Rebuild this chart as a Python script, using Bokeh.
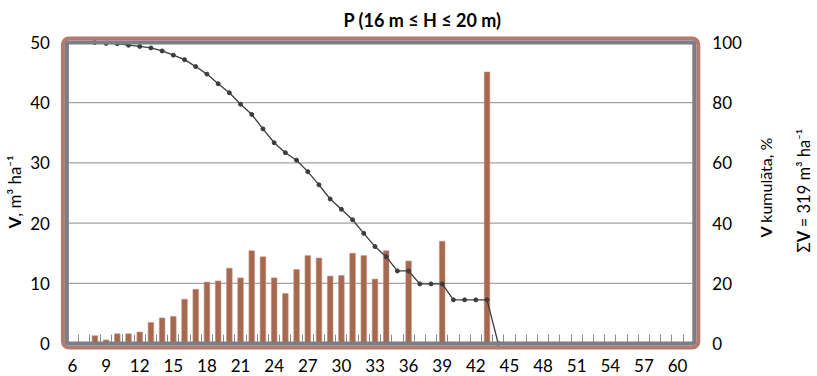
import numpy as np
from bokeh.plotting import figure
from bokeh.models import Range1d, LinearAxis, FixedTicker, Label, BoxAnnotation
from bokeh.embed import file_html
from bokeh.resources import INLINE

# ---------------- data ----------------
bar_d = [8, 9, 10, 11, 12, 13, 14, 15, 16, 17, 18, 19, 20, 21, 22, 23, 24, 25,
         26, 27, 28, 29, 30, 31, 32, 33, 34, 36, 39, 43]
bar_v = [1.3, 0.6, 1.6, 1.6, 1.9, 3.5, 4.25, 4.5, 7.35, 9.0, 10.2, 10.4, 12.5, 10.9,
         15.4, 14.4, 10.9, 8.3, 12.3, 14.6, 14.2, 11.2, 11.3, 15.0, 14.6, 10.7,
         15.4, 13.7, 17.0, 45.1]
cum_d = list(range(8, 45))
cum_pct = [100, 99.7, 99.6, 99.1, 98.7, 98.2, 97.2, 95.8, 94.3, 92.0, 89.5, 86.3,
           83.3, 79.5, 76.1, 71.3, 66.7, 63.4, 60.9, 57.1, 52.7, 48.0, 44.6, 41.1,
           36.6, 32.2, 28.8, 24.1, 24.1, 19.8, 19.8, 19.8, 14.5, 14.5, 14.5, 14.5, 0]
x_ticks = list(range(6, 61, 3))
x_cats = list(range(6, 62))
y_left_ticks = [0, 10, 20, 30, 40, 50]
y_right_ticks = [0, 20, 40, 60, 80, 100]
title_text = "P (16 m \u2264 H \u2264 20 m)"
left_label = ["V", ", m\u00b3 ha\u207b\u00b9"]
right_label = ["V", "kumul\u0101ta, %"]
total_label = ["\u03a3", "V", "= 319 m\u00b3 ha\u207b\u00b9"]

# ---------------- layout (pixels) ----------------
W, H = 817, 376
PL, PR, PT, PB = 66.4, 693.8, 42.0, 343.0   # plot box in canvas pixels
FONT = "Lato"
BAR = "#a6694f"
BROWN = "#b47a6e"
GRAY = "#7d7d86"
FS = "17px"
BASE_SHIFT = 6.5   # anchor offset of Bokeh text vs. glyph baseline

cat_lo, cat_hi = x_cats[0] - 0.5, x_cats[-1] + 0.5
ymax = y_left_ticks[-1]
kx = (PR - PL) / (cat_hi - cat_lo)
ky = (PB - PT) / ymax
X0, X1 = cat_lo - PL / kx, cat_hi + (W - PR) / kx
Y0, Y1 = -(H - PB) / ky, ymax + PT / ky
pct_scale = y_right_ticks[-1] / ymax

p = figure(width=W, height=H, output_backend="svg", toolbar_location=None, title=None,
           x_range=Range1d(X0, X1), y_range=Range1d(Y0, Y1),
           x_axis_type=None, y_axis_type=None,
           min_border=0, min_border_left=0, min_border_right=0,
           min_border_top=0, min_border_bottom=0)
p.extra_y_ranges = {"pct": Range1d(Y0 * pct_scale, Y1 * pct_scale)}
p.outline_line_color = None
p.background_fill_color = "white"
p.border_fill_color = "white"

# horizontal grid lines (from the left tick list)
gy = y_left_ticks[1:-1]
p.segment(x0=[cat_lo] * len(gy), x1=[cat_hi] * len(gy), y0=gy, y1=gy,
          line_color="#8c8c8c", line_width=1)

# data
p.vbar(x=bar_d, top=bar_v, width=0.5, fill_color=BAR, line_color="#c3907f", line_width=0.6)
p.line(cum_d, cum_pct, y_range_name="pct", line_color="#3c3c3c", line_width=1.3)
p.scatter(cum_d, cum_pct, y_range_name="pct", marker="circle", size=4,
          fill_color="#3c3c3c", line_color="#3c3c3c")

# x axis (fixed on y = 0)
xa = LinearAxis(ticker=FixedTicker(ticks=x_ticks, minor_ticks=[c + 0.5 for c in x_cats[:-1]]),
                fixed_location=0)
xa.axis_line_color = None
xa.major_tick_line_color = None
xa.major_tick_in = 0
xa.major_tick_out = 0
xa.minor_tick_in = 9
xa.minor_tick_out = 0
xa.minor_tick_line_color = "#8a8a8a"
xa.major_label_standoff = 15
xa.major_label_text_font = FONT
xa.major_label_text_font_size = FS
xa.major_label_text_color = "black"
p.add_layout(xa, "below")

# left axis
ya = LinearAxis(ticker=FixedTicker(ticks=y_left_ticks), fixed_location=cat_lo)
ya.axis_line_color = None
ya.major_tick_line_color = None
ya.minor_tick_line_color = None
ya.major_tick_in = 0
ya.major_tick_out = 0
ya.major_label_standoff = 17
ya.major_label_text_font = FONT
ya.major_label_text_font_size = FS
ya.major_label_text_color = "black"
p.add_layout(ya, "left")

# right axis
yr = LinearAxis(y_range_name="pct", ticker=FixedTicker(ticks=y_right_ticks), fixed_location=cat_hi)
yr.axis_line_color = None
yr.major_tick_line_color = None
yr.minor_tick_line_color = None
yr.major_tick_in = 0
yr.major_tick_out = 0
yr.major_label_standoff = 18
yr.major_label_text_font = FONT
yr.major_label_text_font_size = FS
yr.major_label_text_color = "black"
p.add_layout(yr, "right")

# plot-box border: brown outer band + gray inner band
p.add_layout(BoxAnnotation(left=PL - 4, right=PR + 4, top=PT - 4, bottom=PB + 4,
                           left_units="canvas", right_units="canvas",
                           top_units="canvas", bottom_units="canvas",
                           fill_alpha=0, line_color=BROWN, line_alpha=1.0,
                           line_width=4, border_radius=6))
p.add_layout(BoxAnnotation(left=cat_lo, right=cat_hi, bottom=0, top=ymax,
                           fill_alpha=0, line_color=GRAY, line_alpha=1.0, line_width=4))

# title
p.add_layout(Label(x=422, y=26 - BASE_SHIFT, x_units="canvas", y_units="canvas", text=title_text,
                   text_align="center", text_baseline="alphabetic", text_font=FONT,
                   text_font_size="18px", text_font_style="bold", text_color="black"))


def rot_label(parts, styles, fx, fy, widths, size=FS):
    y = fy
    for t, s, w in zip(parts, styles, widths):
        p.add_layout(Label(x=fx - BASE_SHIFT, y=y, x_units="canvas", y_units="canvas", text=t,
                           angle=np.pi / 2, text_align="left", text_baseline="alphabetic",
                           text_font=FONT, text_font_size=size, text_font_style=s,
                           text_color="black"))
        y -= w


rot_label(left_label, ["bold", "normal"], 20.5, 228, [11.7, 0])
rot_label(right_label, ["bold", "normal"], 771.5, 237, [14.8, 0], size="16px")
rot_label(total_label, ["normal", "bold", "normal"], 810, 252, [10.2, 15, 0], size="16.5px")

open("out.html", "w").write(file_html(p, INLINE))
